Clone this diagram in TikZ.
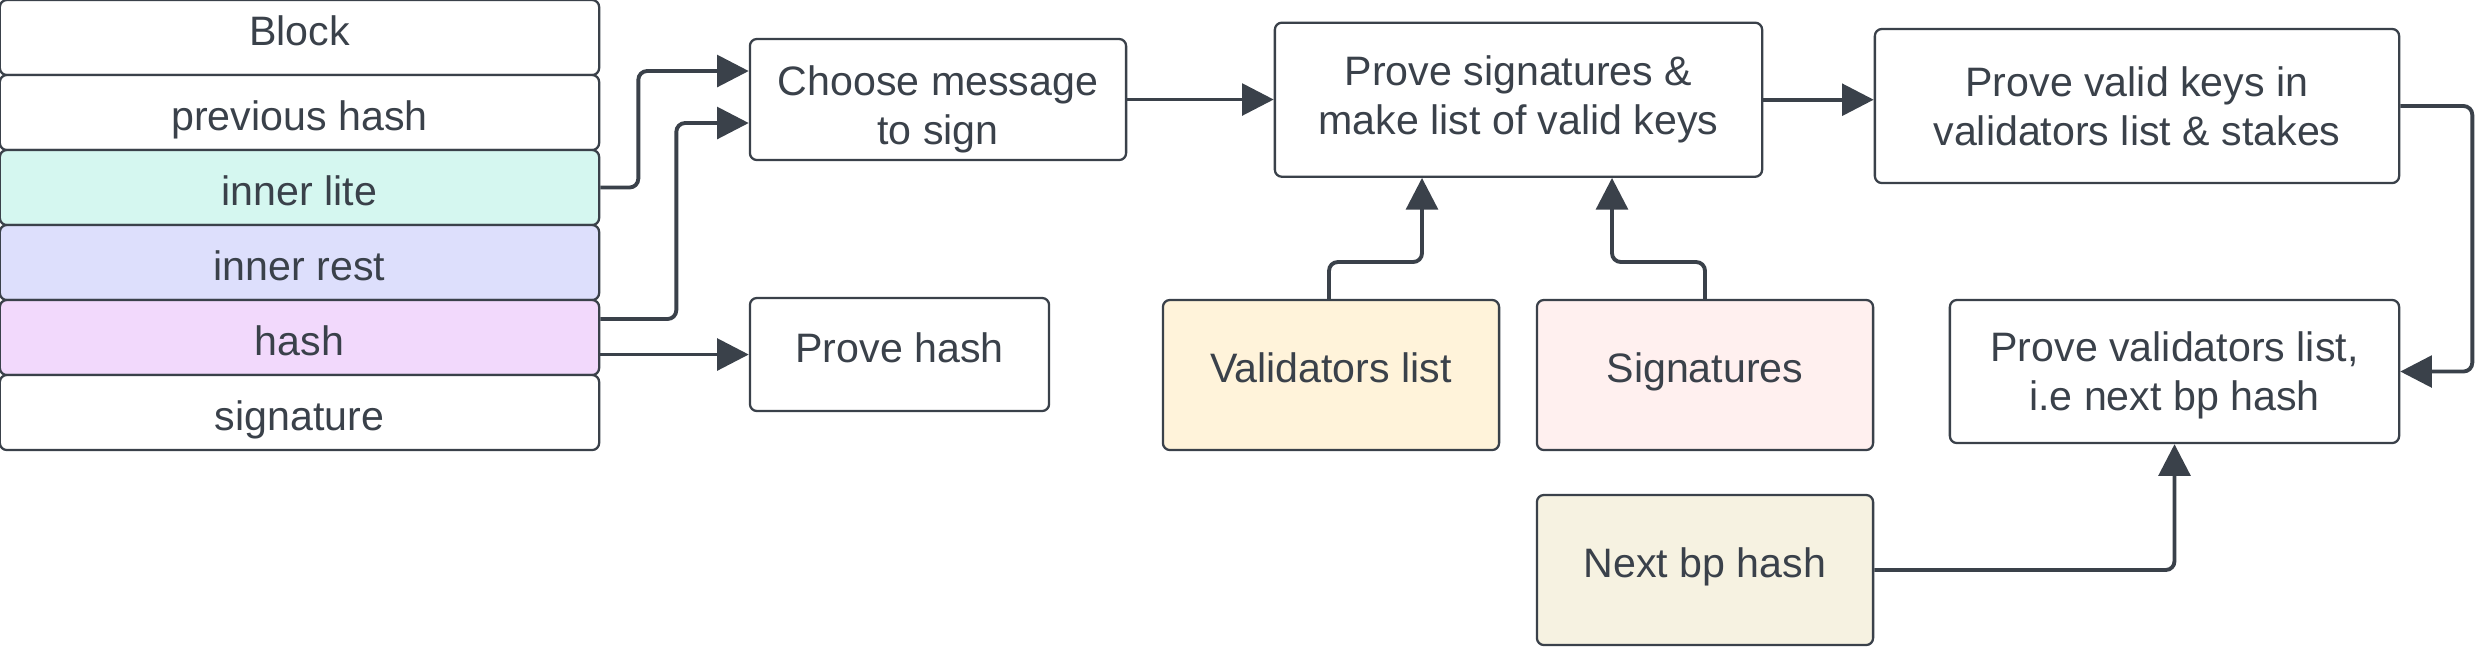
\documentclass[tikz,border=0pt]{standalone}
\usepackage{fontspec}
\setmainfont{Liberation Sans}
\usetikzlibrary{arrows.meta}
\definecolor{ink}{HTML}{3A414A}
\definecolor{lite}{HTML}{D5F7F0}
\definecolor{rest}{HTML}{DDDFFC}
\definecolor{hashc}{HTML}{F2D9FC}
\definecolor{vals}{HTML}{FFF3DA}
\definecolor{sigc}{HTML}{FFF0EF}
\definecolor{nextc}{HTML}{F6F2E1}

\begin{document}
\begin{tikzpicture}[x=0.01cm,y=-0.01cm,
    box/.style={draw=ink,line width=0.65pt,rounded corners=2pt,align=center,text=ink,
      font=\fontsize{11.7}{14}\selectfont,inner sep=0pt},
    one/.style={box,text height=8.5pt,text depth=4pt},
    row/.style={box,minimum width=5.99cm,minimum height=0.75cm,text height=10pt,text depth=0pt},
    arr/.style={draw=ink,line width=1.1pt,rounded corners=2.5pt,-{Triangle[length=9pt,width=9pt]}}]
    \useasboundingbox (0,0) rectangle (2475,647);

    \node[row,one] (bk) at (299.5,37.5) {Block};
    \foreach \nm/\txt/\col [count=\i] in {pr/previous hash/white,il/inner lite/lite,
        ir/inner rest/rest,hs/hash/hashc,sig/signature/white}
        \node[row,fill=\col] (\nm) at (299.5,{75*\i+37.5}) {\txt};

    \node[box,text height=27.9pt,minimum width=3.76cm,minimum height=1.21cm] (ch) at (938,99.5) {Choose message\\to sign};
    \node[one,minimum width=2.99cm,minimum height=1.13cm] (ph) at (899.5,354.5) {Prove hash};
    \node[box,minimum width=4.87cm,minimum height=1.54cm] (ps) at (1518.5,99.7) {Prove signatures \&\\make list of valid keys};
    \node[box,minimum width=5.24cm,minimum height=1.54cm] (pk) at (2137,106) {Prove valid keys in\\validators list \& stakes};
    \node[box,text height=24.5pt,minimum width=4.49cm,minimum height=1.43cm] (pv) at (2174.5,371.5) {Prove validators list,\\i.e next bp hash};
    \node[one,fill=vals,minimum width=3.36cm,minimum height=1.5cm] (vl) at (1331,375) {Validators list};
    \node[one,fill=sigc,minimum width=3.36cm,minimum height=1.5cm] (sigs) at (1705,375) {Signatures};
    \node[one,fill=nextc,minimum width=3.36cm,minimum height=1.5cm] (nb) at (1705,570) {Next bp hash};

    \draw[arr] (il.east) -- ++(38,0) |- (ch.west |- 0,71);
    \draw[arr] (hs.east |- 0,319) -- ++(76,0) |- (ch.west |- 0,123);
    \draw[arr] (hs.east |- ph.west) -- (ph.west);
    \draw[arr] (ch.east) -- (ch.east -| ps.west);
    \draw[arr] (ps.east) -- (ps.east -| pk.west);
    \draw[arr] (pk.east) -- ++(72,0) |- (pv.east);
    \draw[arr] (vl.north -| 1329,0) |- (1422,262) -- (ps.south -| 1422,0);
    \draw[arr] (sigs.north) |- (1612,262) -- (ps.south -| 1612,0);
    \draw[arr] (nb.east) -| (pv.south);
\end{tikzpicture}
\end{document}
